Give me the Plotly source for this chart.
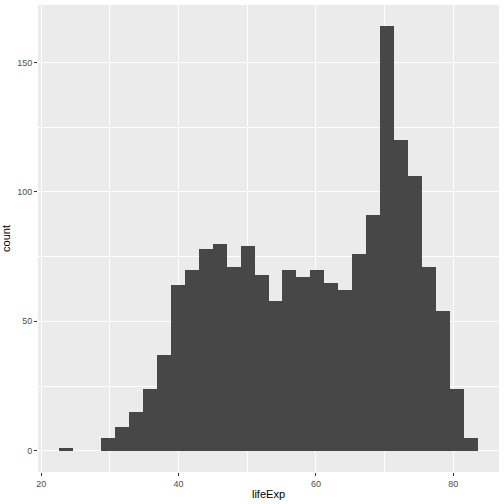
import plotly.graph_objects as go

# Histogram of lifeExp (30 bins), counts
life_min = 23.599
bin_width = 2.0346
counts = [1, 0, 0, 5, 9, 15, 24, 37, 64, 70, 78, 80, 71, 79, 68, 58,
          70, 67, 70, 65, 62, 76, 91, 164, 120, 106, 71, 54, 24, 5]
bin_centers = [life_min + i * bin_width for i in range(len(counts))]

x_ticks = [20, 40, 60, 80]
y_ticks = [0, 50, 100, 150]

fig = go.Figure(go.Bar(
    x=bin_centers, y=counts, width=bin_width,
    marker=dict(color="#474747", line=dict(width=0)),
    hoverinfo="x+y",
))

axis_font = dict(family="Liberation Sans, Arial, sans-serif", size=9, color="#4D4D4D")
title_font = dict(family="Liberation Sans, Arial, sans-serif", size=11, color="black")

fig.update_layout(
    width=504, height=504,
    margin=dict(l=38, r=5, t=5, b=32),
    paper_bgcolor="white",
    plot_bgcolor="#EBEBEB",
    showlegend=False,
    bargap=0,
    xaxis=dict(
        range=[19.53, 86.67],
        tickvals=x_ticks, ticktext=[str(v) for v in x_ticks],
        ticks="outside", ticklen=3, tickwidth=1, tickcolor="#333333",
        tickfont=axis_font,
        showgrid=True, gridcolor="white", gridwidth=1.1,
        minor=dict(tickvals=[30, 50, 70], showgrid=True, gridcolor="white", gridwidth=0.55, ticks=""),
        zeroline=False, showline=False,
        title=dict(text="lifeExp", font=title_font, standoff=2),
    ),
    yaxis=dict(
        range=[-8.2, 172.2],
        tickvals=y_ticks, ticktext=[str(v) for v in y_ticks],
        ticks="outside", ticklen=3, tickwidth=1, tickcolor="#333333",
        tickfont=axis_font,
        showgrid=True, gridcolor="white", gridwidth=1.1,
        minor=dict(tickvals=[25, 75, 125], showgrid=True, gridcolor="white", gridwidth=0.55, ticks=""),
        zeroline=False, showline=False,
        title=dict(text="count", font=title_font, standoff=4),
    ),
)

fig.write_html("out.html")
